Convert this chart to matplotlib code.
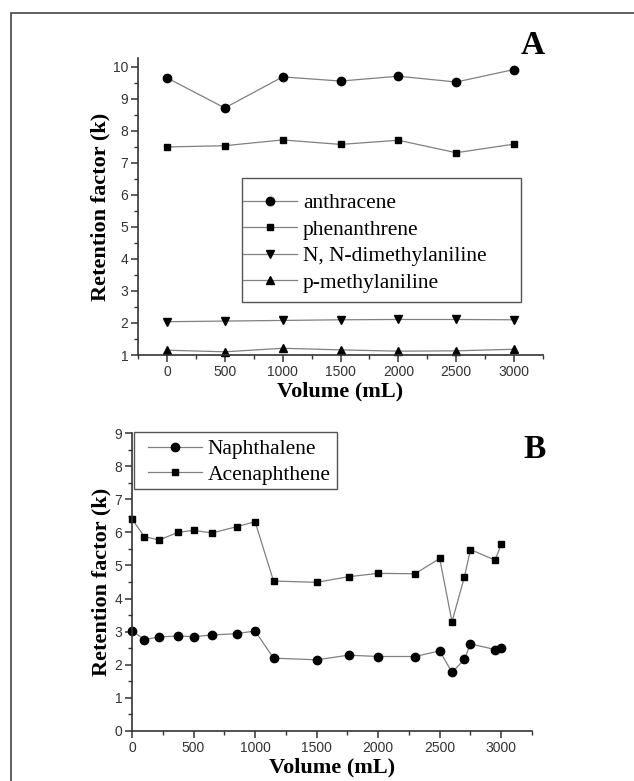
import matplotlib
matplotlib.use("Agg")
import matplotlib.pyplot as plt
from matplotlib.ticker import MultipleLocator
from matplotlib.patches import Rectangle

# Panel A data
vol_a = [0, 500, 1000, 1500, 2000, 2500, 3000]
anthracene = [9.66, 8.72, 9.69, 9.56, 9.71, 9.53, 9.92]
phenanthrene = [7.50, 7.54, 7.72, 7.58, 7.71, 7.32, 7.59]
nn_dimethylaniline = [2.04, 2.06, 2.08, 2.10, 2.11, 2.11, 2.10]
p_methylaniline = [1.15, 1.10, 1.21, 1.16, 1.12, 1.13, 1.18]

# Panel B data
vol_b = [0, 100, 220, 375, 500, 650, 850, 1000, 1150, 1500, 1760, 2000,
         2300, 2500, 2600, 2700, 2750, 2950, 3000]
naphthalene = [3.03, 2.76, 2.84, 2.87, 2.85, 2.90, 2.94, 3.02, 2.20, 2.15,
               2.29, 2.25, 2.25, 2.42, 1.77, 2.16, 2.63, 2.46, 2.50]
acenaphthene = [6.40, 5.87, 5.77, 6.00, 6.06, 5.98, 6.17, 6.32, 4.53, 4.49,
                4.66, 4.76, 4.75, 5.21, 3.30, 4.64, 5.48, 5.16, 5.64]

W, H = 634, 781
fig = plt.figure(figsize=(W / 100, H / 100), dpi=100)

serif = "Liberation Serif"
sans = "Liberation Sans"
line_kw = dict(color="#808080", lw=0.9, markerfacecolor="black",
               markeredgecolor="black")


def px(x, y):
    """pixel (from top-left) -> figure fraction"""
    return (x / W, 1 - y / H)


def style(ax):
    for s in ("top", "right"):
        ax.spines[s].set_visible(False)
    for s in ("left", "bottom"):
        ax.spines[s].set_color("#333333")
        ax.spines[s].set_linewidth(1.2)
    ax.tick_params(which="major", direction="out", length=5, width=1.1,
                   colors="#333333", labelsize=10, pad=2)
    ax.tick_params(which="minor", direction="out", length=3, width=1.0,
                   colors="#333333")
    for lab in ax.get_xticklabels() + ax.get_yticklabels():
        lab.set_fontfamily(sans)
        lab.set_color("#333333")
    ax.set_xlabel("Volume (mL)", fontfamily=serif, fontweight="bold",
                  fontsize=16, labelpad=2)
    ax.set_ylabel("Retention factor (k)", fontfamily=serif,
                  fontweight="bold", fontsize=16, labelpad=2)


def frame(x0, y0, x1, y1):
    fig.patches.append(Rectangle(px(x0, y1), (x1 - x0) / W, (y1 - y0) / H,
                                 transform=fig.transFigure, fill=False,
                                 edgecolor="#555555", lw=1.0, zorder=5))


# Panel A
axA = fig.add_axes([138 / W, 1 - 355 / H, 405 / W, 297 / H])
axA.plot(vol_a, anthracene, marker="o", ms=6, label="anthracene", **line_kw)
axA.plot(vol_a, phenanthrene, marker="s", ms=5, label="phenanthrene", **line_kw)
axA.plot(vol_a, nn_dimethylaniline, marker="v", ms=6,
         label="N, N-dimethylaniline", **line_kw)
axA.plot(vol_a, p_methylaniline, marker="^", ms=6, label="p-methylaniline",
         **line_kw)
axA.set_xlim(-250, 3250)
axA.set_ylim(1, 10.28)
axA.xaxis.set_major_locator(MultipleLocator(500))
axA.xaxis.set_minor_locator(MultipleLocator(250))
axA.yaxis.set_major_locator(MultipleLocator(1))
axA.yaxis.set_minor_locator(MultipleLocator(0.5))
style(axA)
legA = fig.legend(handles=axA.get_lines(), loc="upper left",
                  bbox_to_anchor=px(243, 193),
                  prop={"family": serif, "size": 15.5}, frameon=False,
                  handlelength=2.5, handletextpad=0.28, labelspacing=0.3,
                  borderpad=0, borderaxespad=0)
frame(242, 178, 521, 302)
fig.text(*px(533, 45), "A", fontfamily=serif, fontweight="bold",
         fontsize=24, ha="center", va="center")

# Panel B
axB = fig.add_axes([132 / W, 1 - 731 / H, 400 / W, 298 / H])
axB.plot(vol_b, naphthalene, marker="o", ms=6, label="Naphthalene", **line_kw)
axB.plot(vol_b, acenaphthene, marker="s", ms=5, label="Acenaphthene", **line_kw)
axB.set_xlim(0, 3250)
axB.set_ylim(0, 9)
axB.xaxis.set_major_locator(MultipleLocator(500))
axB.xaxis.set_minor_locator(MultipleLocator(250))
axB.yaxis.set_major_locator(MultipleLocator(1))
axB.yaxis.set_minor_locator(MultipleLocator(0.5))
style(axB)
for c in axA.get_lines() + axB.get_lines():
    c.set_clip_on(False)
legB = fig.legend(handles=axB.get_lines(), loc="upper left",
                  bbox_to_anchor=px(148, 439),
                  prop={"family": serif, "size": 15.5}, frameon=False,
                  handlelength=2.5, handletextpad=0.28, labelspacing=0.25,
                  borderpad=0, borderaxespad=0)
frame(134, 432, 337, 489)
fig.text(*px(535, 450), "B", fontfamily=serif, fontweight="bold",
         fontsize=24, ha="center", va="center")

# outer frame
fig.patches.append(Rectangle((11 / W, -0.05), 1.2, 1 - 13 / H + 0.05,
                             transform=fig.transFigure, fill=False,
                             edgecolor="#444444", lw=1.2))

fig.savefig("out.png", dpi=100)
